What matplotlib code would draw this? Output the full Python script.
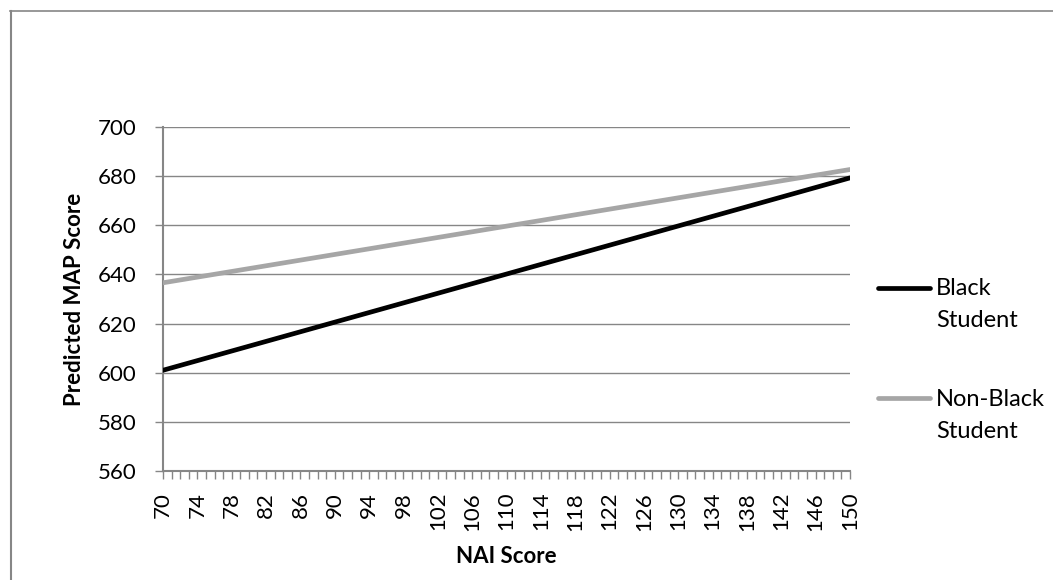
import matplotlib
matplotlib.use("Agg")
import matplotlib.pyplot as plt
from matplotlib.lines import Line2D

# ---- data ----
nai_range = [70, 150]                 # NAI score at the line ends
black_student = [601.0, 679.3]        # predicted MAP score
nonblack_student = [636.6, 682.7]
series_labels = ["Black\nStudent", "Non-Black\nStudent"]
series_colors = ["#000000", "#A6A6A6"]
y_ticks = [560, 580, 600, 620, 640, 660, 680, 700]
x_minor_ticks = list(range(70, 151))
x_tick_labels = list(range(70, 151, 4))

plt.rcParams['font.family'] = ['Lato', 'DejaVu Sans']

W, H = 1053, 580
fig = plt.figure(figsize=(W / 100, H / 100), dpi=100)

def fx(px):
    return px / W

def fy(py):
    return 1 - py / H

ax = fig.add_axes([fx(163), fy(471), fx(850) - fx(163), fy(127) - fy(471)])

grid_c = "#868686"
ax.plot(nai_range, black_student, color=series_colors[0], lw=3.4,
        solid_capstyle="round", zorder=3)
ax.plot(nai_range, nonblack_student, color=series_colors[1], lw=3.4,
        solid_capstyle="round", zorder=3)

ax.set_xlim(70, 150)
ax.set_ylim(560, 700)
ax.set_yticks(y_ticks)
ax.set_yticklabels([str(v) for v in y_ticks], fontsize=16)
ax.set_xticks(x_tick_labels)
ax.set_xticklabels([str(v) for v in x_tick_labels], fontsize=16, rotation=90)
ax.set_xticks(x_minor_ticks, minor=True)

for v in y_ticks[1:]:
    ax.axhline(v, color=grid_c, lw=1.0, zorder=1)

for s in ["top", "right"]:
    ax.spines[s].set_visible(False)
for s in ["left", "bottom"]:
    ax.spines[s].set_color(grid_c)
    ax.spines[s].set_linewidth(1.5)

ax.tick_params(axis="y", which="major", direction="out", length=6, width=1.0,
               color=grid_c, pad=13)
ax.tick_params(axis="x", which="both", direction="out", length=6, width=1.0,
               color=grid_c, pad=9)

ax.set_ylabel("Predicted MAP Score", fontsize=16, fontweight="bold", labelpad=9)
ax.set_xlabel("NAI Score", fontsize=16, fontweight="bold", labelpad=11)

# legend (manual, Excel-like)
for (ly, ty, label, col) in [(288, 278, series_labels[0], series_colors[0]),
                             (398, 389, series_labels[1], series_colors[1])]:
    fig.add_artist(Line2D([fx(878), fx(930)], [fy(ly), fy(ly)], color=col,
                          lw=3.4, solid_capstyle="round"))
    fig.text(fx(936), fy(ty), label, fontsize=17, ha="left", va="top",
             linespacing=1.62)

# outer chart-area border (left and top visible)
fig.add_artist(Line2D([fx(10.5), fx(10.5)], [fy(11), 0], color=grid_c, lw=1.5))
fig.add_artist(Line2D([fx(10), 1], [fy(11), fy(11)], color=grid_c, lw=1.2))

fig.savefig("out.png", dpi=100)
